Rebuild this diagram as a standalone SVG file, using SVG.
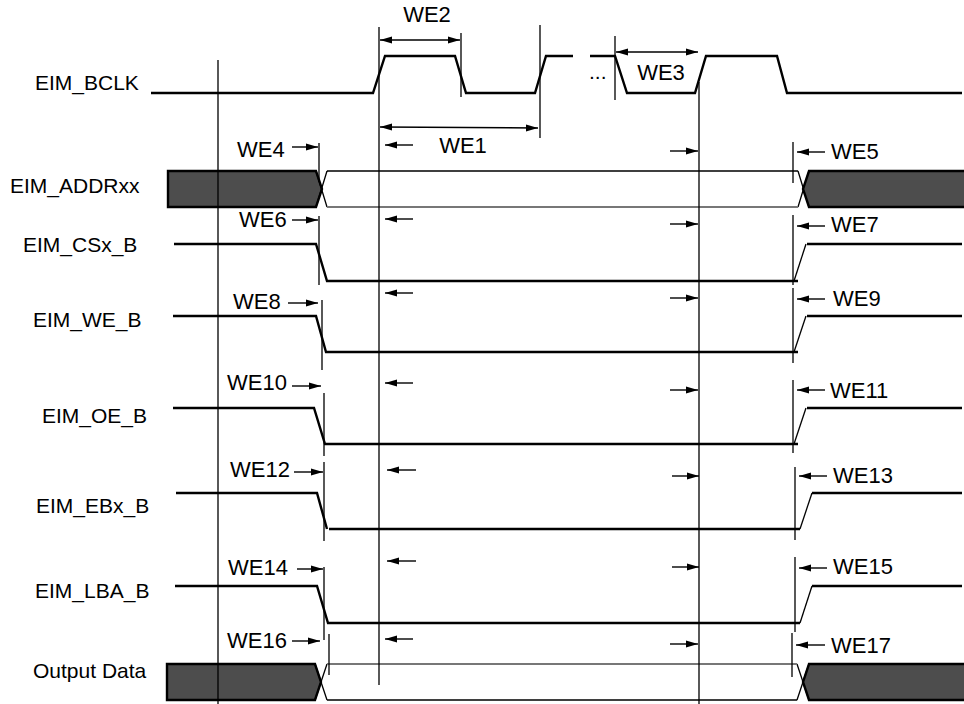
<svg xmlns="http://www.w3.org/2000/svg" width="964" height="704" viewBox="0 0 964 704">
<style>
.lbl{font-family:"Liberation Sans",Arial,sans-serif;font-size:21px;fill:#000}
.we{font-family:"Liberation Sans",Arial,sans-serif;font-size:22px;fill:#000}
.sig{fill:none;stroke:#000;stroke-width:2.4}
.thin{fill:none;stroke:#000;stroke-width:1.3}
.gray{fill:none;stroke:#777;stroke-width:2}
.dark{fill:#4d4d4d;stroke:#000;stroke-width:2.4}
.vl{fill:none;stroke:#000;stroke-width:1.3}
.ar{fill:none;stroke:#000;stroke-width:1.4;marker-end:url(#ah)}
.ar2{fill:none;stroke:#000;stroke-width:1.4;marker-start:url(#ah);marker-end:url(#ah)}
</style>
<defs>
<marker id="ah" viewBox="0 0 12 8" refX="12" refY="4" markerWidth="12" markerHeight="8" markerUnits="userSpaceOnUse" orient="auto-start-reverse">
<path d="M0,0.5 L12,4 L0,7.5 Z" fill="#000"/>
</marker>
</defs>
<rect width="964" height="704" fill="#fff"/>

<g id="EIM_BCLK">
<text class="lbl" x="35" y="90">EIM_BCLK</text>
<path class="sig" d="M151,93 L373,93 L385,56 L455,56 L466,93 L535,93 L546,56 L573,56 M590,56 L615,56 L627,93 L695,93 L706,56 L777,56 L787,93 L962,93"/>
<text class="lbl" x="589" y="79" font-size="16">...</text>
</g>

<g id="EIM_ADDRxx">
<text class="lbl" x="10" y="193">EIM_ADDRxx</text>
<path class="dark" d="M168,171 L316,171 L322,189 L316,207 L168,207 Z"/>
<path class="thin" d="M316,171 L327,207 M327,171 L316,207 M327,171 L798,171 M798,171 L809,207 M809,171 L798,207"/>
<path class="gray" d="M327,207 L798,207"/>
<path fill="#4d4d4d" d="M964,171 L809,171 L803,189 L809,207 L964,207 Z"/>
<path class="sig" d="M964,171 L809,171 L803,189 L809,207 L964,207"/>
</g>

<g id="EIM_CSx_B">
<text class="lbl" x="23" y="252">EIM_CSx_B</text>
<path class="sig" d="M174,244 L316,244 L327,281 L798,281"/>
<path class="thin" d="M794,281 L806,244"/>
<path class="sig" d="M807,244 L962,244"/>
</g>

<g id="EIM_WE_B">
<text class="lbl" x="33" y="327">EIM_WE_B</text>
<path class="sig" d="M173,316 L316,316 L326,352 L798,352"/>
<path class="thin" d="M794,352 L806,316"/>
<path class="sig" d="M807,316 L962,316"/>
</g>

<g id="EIM_OE_B">
<text class="lbl" x="42" y="423">EIM_OE_B</text>
<path class="sig" d="M173,408 L314,408 L325,444 L798,444"/>
<path class="thin" d="M794,444 L806,408"/>
<path class="sig" d="M807,408 L962,408"/>
</g>

<g id="EIM_EBx_B">
<text class="lbl" x="36" y="513">EIM_EBx_B</text>
<path class="sig" d="M176,493 L317,493 L327,529 M329,529 L800,529"/>
<path class="thin" d="M800,529 L812,493"/>
<path class="sig" d="M812,493 L962,493"/>
</g>

<g id="EIM_LBA_B">
<text class="lbl" x="35" y="598">EIM_LBA_B</text>
<path class="sig" d="M175,586 L317,586 L328,623 L800,623"/>
<path class="thin" d="M800,623 L812,586"/>
<path class="sig" d="M812,586 L962,586"/>
</g>

<g id="Output_Data">
<text class="lbl" x="33" y="678">Output Data</text>
<path class="dark" d="M167,664 L315,664 L321,682 L315,700 L167,700 Z"/>
<path class="thin" d="M315,664 L327,700 M327,664 L315,700 M327,700 L797,700 M797,664 L809,700 M809,664 L797,700"/>
<path class="gray" d="M327,664 L797,664"/>
<path fill="#4d4d4d" d="M964,664 L809,664 L803,682 L809,700 L964,700 Z"/>
<path class="sig" d="M964,664 L809,664 L803,682 L809,700 L964,700"/>
</g>

<g id="connectors">
<path class="vl" d="M218,60 L218,704 M379,27 L379,685 M461,33 L461,97 M540,25 L540,138 M615,36 L615,100 M699,82 L699,704"/>
<text class="we" x="427" y="22" text-anchor="middle">WE2</text>
<path class="ar2" d="M380,40 L460,40"/>
<path class="ar2" d="M380,127 L538,128"/>
<text class="we" x="463" y="153" text-anchor="middle">WE1</text>
<path class="ar2" d="M616,52 L698,52"/>
<text class="we" x="661" y="80" text-anchor="middle">WE3</text>

<path class="vl" d="M319,143 L319,182 M319,216 L319,285 M322,300 L322,370 M324,393 L324,456 M324,462 L324,541 M324,567 L324,640 M329,634 L329,675"/>
<text class="we" x="237" y="157">WE4</text><path class="ar" d="M292,147 L318,147"/>
<text class="we" x="239" y="227">WE6</text><path class="ar" d="M292,220 L318,220"/>
<text class="we" x="233" y="309">WE8</text><path class="ar" d="M288,303 L318,303"/>
<text class="we" x="227" y="390">WE10</text><path class="ar" d="M292,386 L321,386"/>
<text class="we" x="230" y="477">WE12</text><path class="ar" d="M294,472 L323,472"/>
<text class="we" x="228" y="575">WE14</text><path class="ar" d="M297,569 L323,569"/>
<text class="we" x="227" y="648">WE16</text><path class="ar" d="M292,641 L320,641"/>

<path class="ar" d="M413,145 L385,145"/><path class="ar" d="M670,151 L698,151"/>
<path class="ar" d="M413,219 L385,219"/><path class="ar" d="M670,224 L698,224"/>
<path class="ar" d="M413,293 L385,293"/><path class="ar" d="M670,298 L698,298"/>
<path class="ar" d="M413,383 L385,383"/><path class="ar" d="M670,390 L698,390"/>
<path class="ar" d="M416,470 L387,470"/><path class="ar" d="M672,476 L699,476"/>
<path class="ar" d="M416,561 L387,561"/><path class="ar" d="M672,567 L699,567"/>
<path class="ar" d="M413,639 L385,639"/><path class="ar" d="M670,644 L698,644"/>

<path class="vl" d="M793,142 L793,183 M793,215 L793,285 M793,288 L793,363 M793,380 L793,453 M795,467 L795,540 M795,557 L795,632 M792,633 L792,677"/>
<path class="ar" d="M825,152 L797,152"/><text class="we" x="831" y="159">WE5</text>
<path class="ar" d="M825,226 L797,226"/><text class="we" x="831" y="232">WE7</text>
<path class="ar" d="M825,299 L797,299"/><text class="we" x="833" y="306">WE9</text>
<path class="ar" d="M825,390 L797,390"/><text class="we" x="830" y="398">WE11</text>
<path class="ar" d="M827,476 L799,476"/><text class="we" x="833" y="483">WE13</text>
<path class="ar" d="M827,568 L799,568"/><text class="we" x="833" y="574">WE15</text>
<path class="ar" d="M825,645 L796,645"/><text class="we" x="831" y="653">WE17</text>
</g>
</svg>
